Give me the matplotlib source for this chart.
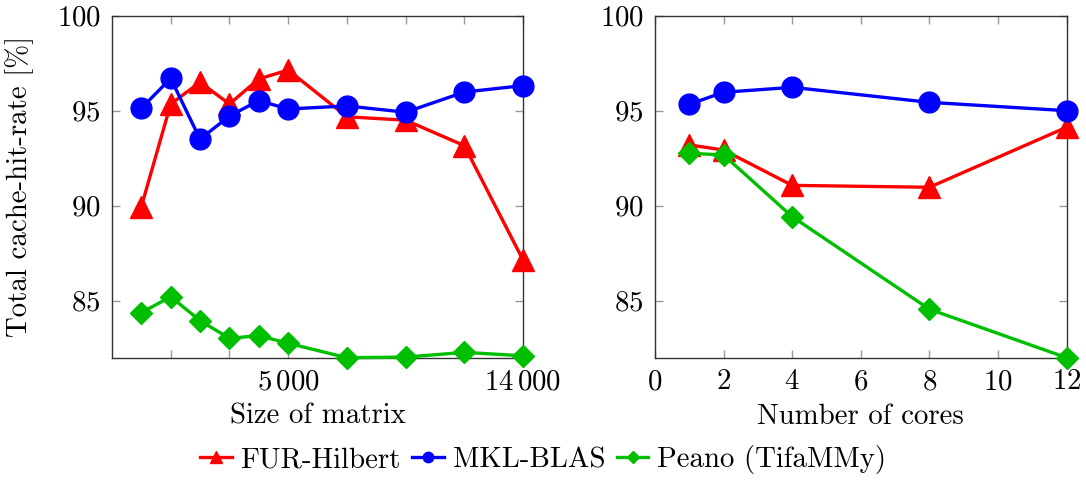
import matplotlib
matplotlib.use("Agg")
import matplotlib.pyplot as plt

plt.rcParams['font.family'] = ['cmr10', 'DejaVu Serif']
plt.rcParams['mathtext.fontset'] = 'cm'
plt.rcParams['axes.formatter.use_mathtext'] = True
plt.rcParams['font.size'] = 20.8

# left panel: matrix size (plotted at axis positions, only two ticks labelled)
matrix_pos = [0.5, 1, 1.5, 2, 2.5, 3, 4, 5, 6, 7]
matrix_ticks = [1, 2, 3, 4, 5, 6, 7]
matrix_ticklabels = ['', '', r'$5\,000$', '', '', '', r'$14\,000$']
fur_size = [89.95, 95.35, 96.5, 95.35, 96.67, 97.14, 94.68, 94.5, 93.16, 87.14]
mkl_size = [95.13, 96.7, 93.5, 94.72, 95.53, 95.09, 95.25, 94.92, 95.98, 96.32]
peano_size = [84.37, 85.21, 83.95, 83.02, 83.16, 82.76, 82.0, 82.03, 82.28, 82.1]

# right panel: number of cores
cores = [1, 2, 4, 8, 12]
fur_cores = [93.2, 92.93, 91.07, 90.97, 94.13]
mkl_cores = [95.34, 95.97, 96.23, 95.44, 95.0]
peano_cores = [92.76, 92.67, 89.42, 84.55, 82.0]

red = (1, 0, 0)
blue = (0, 0, 1)
green = (0, 0.75, 0)

fig = plt.figure(figsize=(10.86, 4.8), dpi=100)
ax1 = fig.add_axes([0.1031, 0.2548, 0.3785, 0.7125])
ax2 = fig.add_axes([0.6031, 0.2548, 0.3791, 0.7125])

def style(ax):
   ax.set_ylim(82, 100)
   ax.set_yticks([85, 90, 95, 100])
   ax.tick_params(direction='in', top=True, right=True, length=6,
                  color='#999999', width=1, pad=8)
   for s in ax.spines.values():
      s.set_linewidth(1)
      s.set_color('#333333')

kw = dict(linewidth=2.4, clip_on=False, zorder=3)
ax1.plot(matrix_pos, fur_size, '^', color=red, markersize=16, linestyle='-', **kw)
ax1.plot(matrix_pos, mkl_size, 'o', color=blue, markersize=15, linestyle='-', **kw)
ax1.plot(matrix_pos, peano_size, 'D', color=green, markersize=11.5, linestyle='-', **kw)
ax1.set_xlim(0, 7)
ax1.set_xticks(matrix_ticks)
ax1.set_xticklabels(matrix_ticklabels)
style(ax1)
ax1.set_xlabel('Size of matrix', labelpad=6)
ax1.set_ylabel('Total cache-hit-rate [%]', labelpad=16)

l1, = ax2.plot(cores, fur_cores, '^', color=red, markersize=16, linestyle='-', **kw)
l2, = ax2.plot(cores, mkl_cores, 'o', color=blue, markersize=15, linestyle='-', **kw)
l3, = ax2.plot(cores, peano_cores, 'D', color=green, markersize=11.5, linestyle='-', **kw)
ax2.set_xlim(0, 12)
ax2.set_xticks(range(0, 13, 2))
style(ax2)
ax2.set_xlabel('Number of cores', labelpad=6)

fig.legend([l1, l2, l3], ['FUR-Hilbert', 'MKL-BLAS', 'Peano (TifaMMy)'],
           loc='center', bbox_to_anchor=(0.5, 0.042), ncol=3, frameon=False,
           handlelength=1.1, handletextpad=0.3, columnspacing=0.4,
           markerscale=0.5, borderaxespad=0)

fig.savefig('out.png', dpi=100)
